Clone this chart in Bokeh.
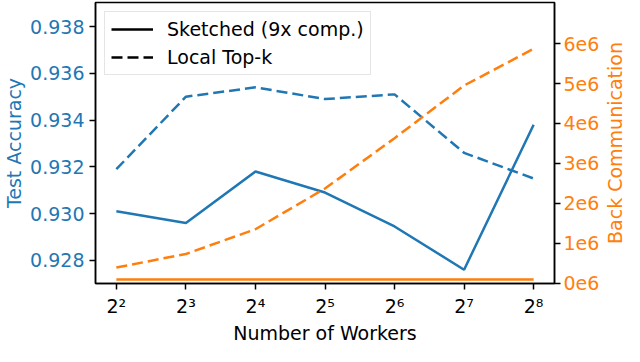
import math
from bokeh.plotting import figure
from bokeh.models import (Range1d, LinearAxis, FixedTicker, Legend, LegendItem,
                          NumeralTickFormatter, Label, CustomJSTickFormatter)
from bokeh.embed import file_html
from bokeh.resources import INLINE

# ---- data ----
workers = [4, 8, 16, 32, 64, 128, 256]
worker_tick_labels = ["2²", "2³", "2⁴", "2⁵", "2⁶", "2⁷", "2⁸"]

acc_sketched = [0.9301, 0.9296, 0.9318, 0.9309, 0.92945, 0.9276, 0.9338]
acc_topk = [0.9319, 0.9350, 0.9354, 0.9349, 0.9351, 0.9326, 0.9315]

comm_sketched = [0.09e6, 0.09e6, 0.09e6, 0.09e6, 0.09e6, 0.09e6, 0.09e6]
comm_topk = [0.39e6, 0.73e6, 1.35e6, 2.37e6, 3.63e6, 4.95e6, 5.87e6]

acc_ticks = [0.928, 0.930, 0.932, 0.934, 0.936, 0.938]
comm_ticks = [0, 1000000, 2000000, 3000000, 4000000, 5000000, 6000000]
comm_tick_labels = ["0e6", "1e6", "2e6", "3e6", "4e6", "5e6", "6e6"]

BLUE = "#1f77b4"
ORANGE = "#ff7f0e"
FONT = "DejaVu Sans"
FS = "19px"

LOOKUP = "const i = tvals.indexOf(tick); return i >= 0 ? tlabels[i] : '';"

x_range = Range1d(2 ** 1.7, 2 ** 8.3)
y_range = Range1d(0.92701, 0.93903)

p = figure(width=624, height=346, x_axis_type="log",
           x_range=x_range, y_range=y_range,
           output_backend="svg", toolbar_location=None,
           min_border_top=2, min_border_right=0, min_border_left=0, min_border_bottom=0)
p.extra_y_ranges = {"comm": Range1d(-0.01e6, 7.03e6)}

p.xgrid.visible = False
p.ygrid.visible = False
p.outline_line_color = "black"
p.outline_line_width = 1.5
p.background_fill_color = "white"
p.border_fill_color = "white"

# ---- data lines ----
p.line(workers, acc_sketched, line_color=BLUE, line_width=2.5)
p.line(workers, acc_topk, line_color=BLUE, line_width=2.5, line_dash="11 5")
p.line(workers, comm_sketched, line_color=ORANGE, line_width=2.5, y_range_name="comm")
p.line(workers, comm_topk, line_color=ORANGE, line_width=2.5, line_dash="11 5",
       y_range_name="comm")

# ---- legend proxies (hidden black copies) ----
r_solid = p.line(workers, acc_sketched, line_color="black", line_width=2.5, visible=False)
r_dash = p.line(workers, acc_topk, line_color="black", line_width=2.5,
                line_dash="11 5", visible=False)

# ---- axes ----
xa = p.xaxis[0]
xa.ticker = FixedTicker(ticks=workers)
xa.formatter = CustomJSTickFormatter(args=dict(tvals=workers, tlabels=worker_tick_labels),
                                     code=LOOKUP)
xa.axis_label = "Number of Workers"

ya = p.yaxis[0]
ya.ticker = FixedTicker(ticks=acc_ticks)
ya.formatter = NumeralTickFormatter(format="0.000")
ya.axis_label = "Test Accuracy"

ra = LinearAxis(y_range_name="comm", ticker=FixedTicker(ticks=comm_ticks))
ra.formatter = CustomJSTickFormatter(args=dict(tvals=comm_ticks, tlabels=comm_tick_labels),
                                     code=LOOKUP)
p.add_layout(ra, "right")

for ax in [xa, ya, ra]:
    ax.axis_line_color = "black"
    ax.axis_line_width = 1.5
    ax.major_tick_line_color = "black"
    ax.major_tick_line_width = 1.5
    ax.major_tick_out = 6
    ax.major_tick_in = 0
    ax.minor_tick_out = 0
    ax.minor_tick_in = 0
    ax.major_label_text_font = FONT
    ax.major_label_text_font_size = FS
    ax.axis_label_text_font = FONT
    ax.axis_label_text_font_size = FS
    ax.axis_label_text_font_style = "normal"

ya.major_label_standoff = 5
ya.axis_label_standoff = 2
xa.major_label_standoff = 5
xa.axis_label_standoff = 2
ra.major_label_standoff = 3

xa.major_label_text_color = "black"
xa.axis_label_text_color = "black"
ya.major_label_text_color = BLUE
ya.axis_label_text_color = BLUE
ra.major_label_text_color = ORANGE

# right-axis title, reading bottom-to-top like the left one
y_mid = (y_range.start + y_range.end) / 2
p.add_layout(Label(x=12, x_units="screen", y=y_mid, text="Back Communication",
                   angle=math.pi / 2, text_font=FONT, text_font_size=FS,
                   text_color=ORANGE, text_align="center", text_baseline="middle"),
             "right")

legend = Legend(items=[LegendItem(label="Sketched (9x comp.)", renderers=[r_solid]),
                       LegendItem(label="Local Top-k", renderers=[r_dash])],
                location="top_left")
legend.label_text_font = FONT
legend.label_text_font_size = FS
legend.label_text_color = "black"
legend.glyph_width = 42
legend.glyph_height = 22
legend.label_height = 22
legend.label_standoff = 14
legend.padding = 6
legend.spacing = 6
legend.margin = 9
legend.border_line_color = "#cccccc"
legend.border_line_width = 1
legend.background_fill_color = "white"
legend.background_fill_alpha = 0.8
legend.inactive_fill_alpha = 0
legend.click_policy = "none"
p.add_layout(legend)

open("out.html", "w").write(file_html(p, INLINE))
